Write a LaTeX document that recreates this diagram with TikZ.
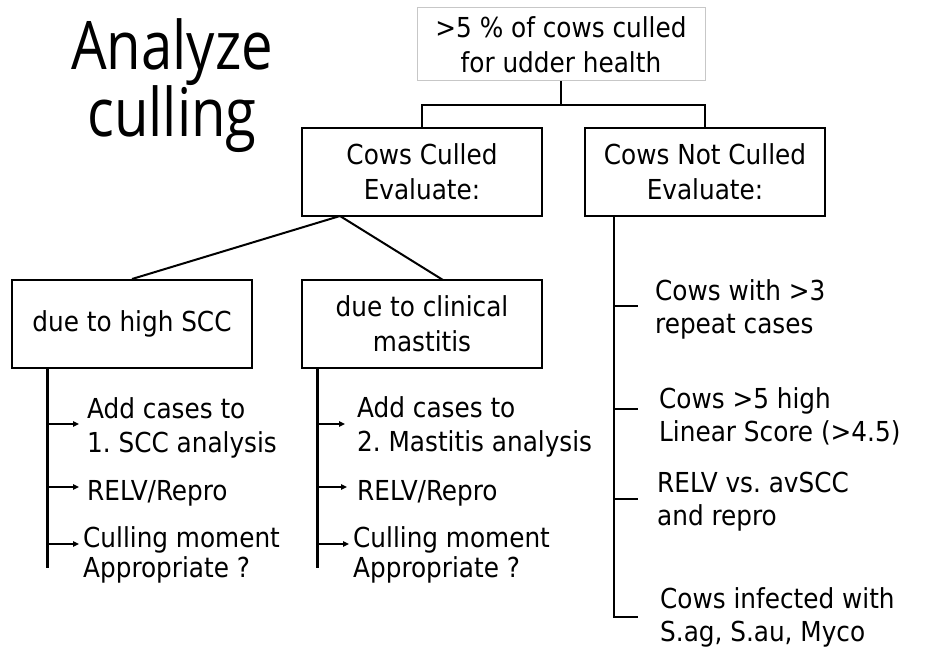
\documentclass[tikz,border=0pt]{standalone}
\usepackage{fontspec}
\setmainfont{DejaVu Sans Condensed}
\newfontfamily\titlefont[FakeStretch=0.84]{Open Sans}
\usetikzlibrary{arrows.meta}
\frenchspacing

\begin{document}
\begin{tikzpicture}[x=1pt, y=-1pt,
  every node/.style={font=\fontsize{27.5}{35}\selectfont, inner sep=0pt},
  frame/.style={draw=black, line width=2pt, minimum width=240pt, minimum height=88pt, align=center},
  topframe/.style={draw=black!22, line width=1pt, minimum width=288pt, minimum height=73pt, align=center},
  link/.style={line width=2pt},
  stem/.style={line width=3pt},
  rstem/.style={line width=2pt},
  pointer/.style={line width=1.3pt, -{Triangle[length=6pt, width=5.5pt]}},
  item/.style={anchor=west, align=left, font=\fontsize{27.5}{34}\selectfont},
  tightitem/.style={anchor=west, align=left, font=\fontsize{27.5}{30}\selectfont},
  rightitem/.style={anchor=west, align=left, font=\fontsize{27.5}{33}\selectfont}]
  \useasboundingbox (0,0) rectangle (937,652);

  % title
  \node[align=center, font=\titlefont\fontsize{67}{67}\selectfont] (title) at (172,86) {Analyze\\culling};

  % boxes
  \node[topframe] (top) at (561,44.5) {>5 \% of cows culled\\for udder health};
  \node[frame] (cc)  at (422,172) {Cows Culled\\Evaluate:};
  \node[frame] (cnc) at (705,172) {Cows Not Culled\\Evaluate:};
  \node[frame] (hs)  at (132,324) {due to high SCC};
  \node[frame] (cm)  at (422,324) {due to clinical\\mastitis};

  % tree from the top box
  \coordinate (split) at (561,105);
  \draw[link] (top.south) -- (split);
  \draw[link] (cc.north) -- (cc.north |- split) -- (cnc.north |- split) -- (cnc.north);

  % branches under the culled box
  \coordinate (fork) at (340,216);
  \coordinate (cmtop) at (443,280);
  \draw[link] (fork) -- (hs.north);
  \draw[link] (fork) -- (cmtop);

  % left column
  \coordinate (hsA) at (47,368);
  \coordinate (hsB) at (47,568);
  \draw[stem] (hsA) -- (hsB);
  \node[item] (hs1) at (87,428) {Add cases to\\1. SCC analysis};
  \node[item, anchor=base west] (hs2) at (87,500) {RELV/Repro};
  \node[tightitem] (hs3) at (83,555) {Culling moment\\Appropriate ?};
  \draw[pointer] (47,424) -- ([xshift=-8pt]hs1.west |- 0,424);
  \draw[pointer] (47,487) -- ([xshift=-8pt]hs2.west |- 0,487);
  \draw[pointer] (47,544) -- ([xshift=-4pt]hs3.west |- 0,544);

  % middle column
  \coordinate (cmA) at (317,368);
  \coordinate (cmB) at (317,568);
  \draw[stem] (cmA) -- (cmB);
  \node[item] (cm1) at (357,427) {Add cases to\\2. Mastitis analysis};
  \node[item, anchor=base west] (cm2) at (357,500) {RELV/Repro};
  \node[tightitem] (cm3) at (353,555) {Culling moment\\Appropriate ?};
  \draw[pointer] (317,424) -- ([xshift=-12pt]cm1.west |- 0,424);
  \draw[pointer] (317,487) -- ([xshift=-10pt]cm2.west |- 0,487);
  \draw[pointer] (317,544) -- ([xshift=-4pt]cm3.west |- 0,544);

  % right column
  \coordinate (rbar) at (614,617);
  \draw[rstem] (cnc.south -| rbar) -- (rbar) -- ++(24,0);
  \draw[rstem] (614,306) -- ++(24,0);
  \draw[rstem] (614,409) -- ++(24,0);
  \draw[rstem] (614,499) -- ++(24,0);
  \node[rightitem] (n1) at (655,309.5) {Cows with >3\\repeat cases};
  \node[rightitem] (n2) at (659,416.5) {Cows >5 high\\Linear Score (>4.5)};
  \node[rightitem] (n3) at (657,501.5) {RELV vs. avSCC\\and repro};
  \node[rightitem] (n4) at (660,617) {Cows infected with\\S.ag, S.au, Myco};
\end{tikzpicture}
\end{document}
